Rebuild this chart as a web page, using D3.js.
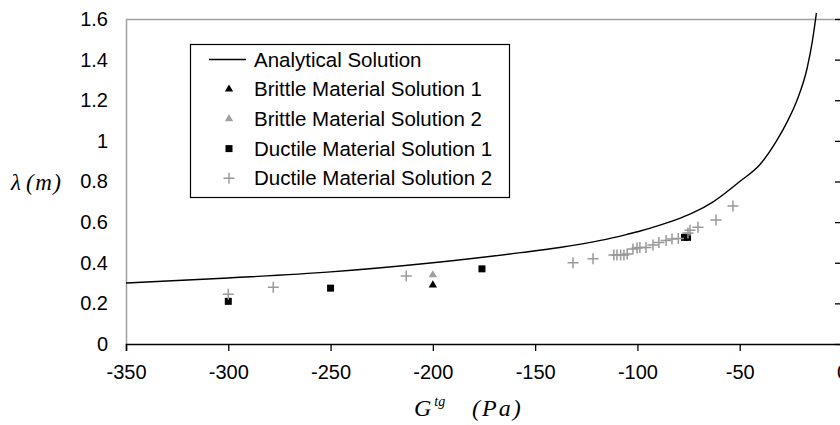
<!DOCTYPE html>
<html>
<head>
<meta charset="utf-8">
<script src="https://cdn.jsdelivr.net/npm/d3@7"></script>
<style>
    body { margin: 0; background: #fff; }
    svg { display: block; }
    .tick text { font-family: Arial, "Liberation Sans", sans-serif; }
</style>
</head>
<body>
<div id="chart"></div>
<script>
// values
const xTicks = [-350, -300, -250, -200, -150, -100, -50, 0]
const yTicks = [0, 0.2, 0.4, 0.6, 0.8, 1, 1.2, 1.4, 1.6]

const analyticalG = [-350, -300, -250, -200, -157, -138, -118, -105, -99, -89, -79, -73, -63, -50, -40, -32, -27, -22, -17, -14.5, -12.5]
const analyticalL = [0.30, 0.325, 0.355, 0.40, 0.45, 0.475, 0.51, 0.54, 0.555, 0.585, 0.62, 0.645, 0.70, 0.80, 0.885, 1.00, 1.09, 1.20, 1.36, 1.49, 1.63]

const brittle1G = [-200]
const brittle1L = [0.29]
const brittle2G = [-200]
const brittle2L = [0.34]

const ductile1G = [-300, -250, -176, -77, -75.5]
const ductile1L = [0.21, 0.275, 0.37, 0.525, 0.525]

const ductile2G = [-300, -278, -213, -131.5, -121.7, -111.5, -110, -108.2, -106.6, -105, -102.2, -100.2, -98.8, -95.8, -92.4, -89.5, -86, -83.1, -80, -75.3, -74.3, -70.4, -61.6, -53.3]
const ductile2L = [0.245, 0.28, 0.335, 0.40, 0.42, 0.438, 0.438, 0.438, 0.438, 0.443, 0.468, 0.473, 0.475, 0.475, 0.488, 0.50, 0.51, 0.517, 0.52, 0.547, 0.56, 0.575, 0.61, 0.68]

const legendItems = [
    "Analytical Solution",
    "Brittle Material Solution 1",
    "Brittle Material Solution 2",
    "Ductile Material Solution 1",
    "Ductile Material Solution 2"
]

const W = 840, H = 425
const margin = { top: 19, right: -2, bottom: 81, left: 126 }
const width = W - margin.left - margin.right
const height = H - margin.top - margin.bottom

const zip = (xs, ys) => xs.map((g, i) => ({ g: g, l: ys[i] }))

const x = d3.scaleLinear().domain([-350, 0]).range([0, width])
const y = d3.scaleLinear().domain([0, 1.6]).range([height, 0])

const svg = d3.select("#chart")
    .append("svg")
    .attr("width", W)
    .attr("height", H)
    .append("g")
    .attr("transform", `translate(${margin.left}, ${margin.top})`)

/* PLOT FRAME (grey top + left) */
svg.append("path")
    .attr("d", `M0.5,${height}V0.5H${width}`)
    .attr("fill", "none")
    .attr("stroke", "#a0a0a0")
    .attr("stroke-width", 1.5)

/* X AXIS */
const xAxis = svg.append("g")
    .attr("transform", `translate(0, ${height})`)
    .call(d3.axisBottom(x).tickValues(xTicks).tickSize(7).tickPadding(14).tickFormat(d => `${d}`))
xAxis.select(".domain").attr("stroke", "#000").attr("stroke-width", 1.5)
xAxis.selectAll(".tick line").attr("stroke", "#000").attr("stroke-width", 1.3)
xAxis.selectAll(".tick text")
    .style("font-size", "20px")
    .attr("fill", "#000")

/* Y AXIS: labels on the left, axis line at G = 0 */
const yLabels = svg.append("g")
    .call(d3.axisLeft(y).tickValues(yTicks).tickSize(0).tickPadding(18).tickFormat(d => `${d}`))
yLabels.select(".domain").remove()
yLabels.selectAll(".tick text")
    .style("font-size", "20px")
    .attr("fill", "#000")

const yAxis = svg.append("g")
    .attr("transform", `translate(${x(0)}, 0)`)
    .call(d3.axisLeft(y).tickValues(yTicks).tickSize(7).tickFormat(""))
yAxis.select(".domain").attr("stroke", "#000")
yAxis.selectAll(".tick line").attr("stroke", "#000").attr("stroke-width", 1.3)

/* ANALYTICAL LINE */
const line = d3.line()
    .x(d => x(d.g))
    .y(d => y(d.l))
    .curve(d3.curveMonotoneX)

svg.append("path")
    .datum(zip(analyticalG, analyticalL))
    .attr("fill", "none")
    .attr("stroke", "#000")
    .attr("stroke-width", 1.4)
    .attr("d", line)

/* MARKERS */
const tri = d3.symbol().type(d3.symbolTriangle).size(30)()
const sq = d3.symbol().type(d3.symbolSquare).size(49)()
const plus = "M-5.5,0H5.5M0,-5.5V5.5"

function addMarkers(data, shape, fill, stroke) {
    svg.append("g")
        .selectAll("path")
        .data(data)
        .join("path")
        .attr("transform", d => `translate(${x(d.g)}, ${y(d.l)})`)
        .attr("d", shape)
        .attr("fill", fill)
        .attr("stroke", stroke)
        .attr("stroke-width", stroke === "none" ? 0 : 1.5)
}
addMarkers(zip(brittle2G, brittle2L), tri, "#a0a0a0", "none")
addMarkers(zip(brittle1G, brittle1L), tri, "#000", "none")
addMarkers(zip(ductile1G, ductile1L), sq, "#000", "none")
addMarkers(zip(ductile2G, ductile2L), plus, "none", "#999")

/* LEGEND */
const legend = svg.append("g")
    .attr("transform", `translate(${190 - margin.left}, ${44 - margin.top})`)

legend.append("rect")
    .attr("x", 0.5).attr("y", 0.5)
    .attr("width", 319).attr("height", 153)
    .attr("fill", "#fff")
    .attr("stroke", "#000")
    .attr("stroke-width", 1.2)

const rowY = i => 15.5 + i * 29.7
const legendShapes = [
    { d: "M-19,0H18", fill: "none", stroke: "#000" },
    { d: tri, fill: "#000", stroke: "none" },
    { d: tri, fill: "#a0a0a0", stroke: "none" },
    { d: sq, fill: "#000", stroke: "none" },
    { d: plus, fill: "none", stroke: "#999" }
]
legendItems.forEach((label, i) => {
    const s = legendShapes[i]
    legend.append("path")
        .attr("transform", `translate(${i === 0 ? 38 : 39}, ${rowY(i)})`)
        .attr("d", s.d)
        .attr("fill", s.fill)
        .attr("stroke", s.stroke)
        .attr("stroke-width", s.stroke === "none" ? 0 : 1.4)
    legend.append("text")
        .attr("x", 64)
        .attr("y", rowY(i))
        .attr("dy", "0.35em")
        .style("font-family", "Arial, 'Liberation Sans', sans-serif")
        .style("font-size", "20.5px")
        .text(label)
})

/* AXIS TITLES */
const yTitle = svg.append("text")
    .attr("x", 11 - margin.left)
    .attr("y", 190 - margin.top)
    .style("font-family", "'Liberation Serif', 'Times New Roman', serif")
    .style("font-style", "italic")
    .style("font-size", "23px")
yTitle.append("tspan").text("λ")
yTitle.append("tspan").attr("dx", 5).style("letter-spacing", "1.5px").text("(m)")

const xTitle = svg.append("text")
    .attr("x", 414 - margin.left)
    .attr("y", 416 - margin.top)
    .style("font-family", "'Liberation Serif', 'Times New Roman', serif")
    .style("font-style", "italic")
    .style("font-size", "24px")
xTitle.append("tspan").text("G")
xTitle.append("tspan").attr("dy", -10).style("font-size", "14px").attr("dx", 3).text("tg")
xTitle.append("tspan").attr("dy", 10).attr("x", 472 - margin.left)
    .style("letter-spacing", "2px").text("(Pa)")
</script>
</body>
</html>
